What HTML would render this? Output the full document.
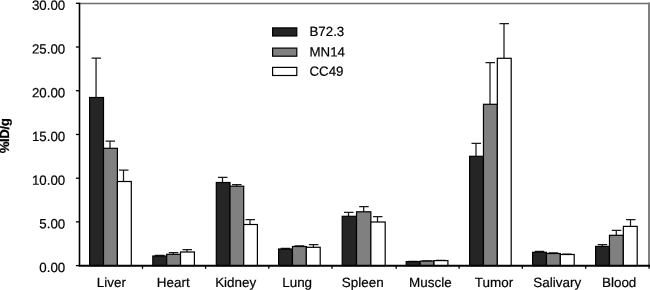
<!DOCTYPE html>
<html><head><meta charset="utf-8"><title>chart</title>
<style>
html,body{margin:0;padding:0;background:#fff;}
body{width:650px;height:290px;overflow:hidden;font-family:"Liberation Sans",sans-serif;}
svg{display:block;will-change:transform;opacity:0.999;}
text{font-family:"Liberation Sans",sans-serif;fill:#000;stroke:#000;stroke-width:0.2;text-rendering:geometricPrecision;}
</style></head><body>
<svg width="650" height="290" viewBox="0 0 650 290">
<rect x="0" y="0" width="650" height="290" fill="#fff"/>
<path d="M79.5 3.4499999999999997 H649.6999999999999" fill="none" stroke="#6e6e6e" stroke-width="1.5"/>
<path d="M649.0 2.55 V265.6" fill="none" stroke="#808080" stroke-width="2"/>
<path d="M96.05 97.50 V58.00 M91.55 58.00 H101.05" fill="none" stroke="#1a1a1a" stroke-width="1.25"/>
<rect x="89.60" y="97.50" width="13.90" height="168.10" fill="#252525" stroke="#000" stroke-width="1.2"/>
<path d="M110.00 148.30 V141.00 M105.50 141.00 H115.00" fill="none" stroke="#1a1a1a" stroke-width="1.25"/>
<rect x="103.50" y="148.30" width="13.90" height="117.30" fill="#808080" stroke="#000" stroke-width="1.2"/>
<path d="M123.50 181.50 V170.00 M119.00 170.00 H128.50" fill="none" stroke="#1a1a1a" stroke-width="1.25"/>
<rect x="117.40" y="181.50" width="13.90" height="84.10" fill="#ffffff" stroke="#000" stroke-width="1.2"/>
<path d="M159.43 256.00 V255.40 M154.93 255.40 H164.43" fill="none" stroke="#1a1a1a" stroke-width="1.25"/>
<rect x="152.80" y="256.00" width="13.87" height="9.60" fill="#252525" stroke="#000" stroke-width="1.2"/>
<path d="M173.30 254.30 V252.50 M168.80 252.50 H178.30" fill="none" stroke="#1a1a1a" stroke-width="1.25"/>
<rect x="166.67" y="254.30" width="13.87" height="11.30" fill="#808080" stroke="#000" stroke-width="1.2"/>
<path d="M187.00 252.00 V249.70 M182.50 249.70 H192.00" fill="none" stroke="#1a1a1a" stroke-width="1.25"/>
<rect x="180.53" y="252.00" width="13.87" height="13.60" fill="#ffffff" stroke="#000" stroke-width="1.2"/>
<path d="M222.50 182.50 V177.30 M218.00 177.30 H227.50" fill="none" stroke="#1a1a1a" stroke-width="1.25"/>
<rect x="216.30" y="182.50" width="13.70" height="83.10" fill="#252525" stroke="#000" stroke-width="1.2"/>
<path d="M236.55 186.20 V184.50 M232.05 184.50 H241.55" fill="none" stroke="#1a1a1a" stroke-width="1.25"/>
<rect x="230.00" y="186.20" width="13.70" height="79.40" fill="#808080" stroke="#000" stroke-width="1.2"/>
<path d="M250.00 224.50 V219.50 M245.50 219.50 H255.00" fill="none" stroke="#1a1a1a" stroke-width="1.25"/>
<rect x="243.70" y="224.50" width="13.70" height="41.10" fill="#ffffff" stroke="#000" stroke-width="1.2"/>
<path d="M285.23 249.00 V248.40 M280.73 248.40 H290.23" fill="none" stroke="#1a1a1a" stroke-width="1.25"/>
<rect x="278.60" y="249.00" width="13.87" height="16.60" fill="#252525" stroke="#000" stroke-width="1.2"/>
<path d="M299.10 246.50 V245.80 M294.60 245.80 H304.10" fill="none" stroke="#1a1a1a" stroke-width="1.25"/>
<rect x="292.47" y="246.50" width="13.87" height="19.10" fill="#808080" stroke="#000" stroke-width="1.2"/>
<path d="M313.40 247.30 V244.50 M308.90 244.50 H318.40" fill="none" stroke="#1a1a1a" stroke-width="1.25"/>
<rect x="306.33" y="247.30" width="13.87" height="18.30" fill="#ffffff" stroke="#000" stroke-width="1.2"/>
<path d="M348.50 216.30 V212.30 M344.00 212.30 H353.50" fill="none" stroke="#1a1a1a" stroke-width="1.25"/>
<rect x="342.20" y="216.30" width="14.33" height="49.30" fill="#252525" stroke="#000" stroke-width="1.2"/>
<path d="M363.70 211.80 V206.70 M359.20 206.70 H368.70" fill="none" stroke="#1a1a1a" stroke-width="1.25"/>
<rect x="356.53" y="211.80" width="14.33" height="53.80" fill="#808080" stroke="#000" stroke-width="1.2"/>
<path d="M377.50 222.00 V216.50 M373.00 216.50 H382.50" fill="none" stroke="#1a1a1a" stroke-width="1.25"/>
<rect x="370.87" y="222.00" width="14.33" height="43.60" fill="#ffffff" stroke="#000" stroke-width="1.2"/>
<path d="M412.85 261.60 V261.40 M408.35 261.40 H417.85" fill="none" stroke="#1a1a1a" stroke-width="1.25"/>
<rect x="406.20" y="261.60" width="13.90" height="4.00" fill="#252525" stroke="#000" stroke-width="1.2"/>
<path d="M426.75 261.10 V260.80 M422.25 260.80 H431.75" fill="none" stroke="#1a1a1a" stroke-width="1.25"/>
<rect x="420.10" y="261.10" width="13.90" height="4.50" fill="#808080" stroke="#000" stroke-width="1.2"/>
<path d="M440.45 260.60 V260.30 M435.95 260.30 H445.45" fill="none" stroke="#1a1a1a" stroke-width="1.25"/>
<rect x="434.00" y="260.60" width="13.90" height="5.00" fill="#ffffff" stroke="#000" stroke-width="1.2"/>
<path d="M476.00 156.30 V143.30 M471.50 143.30 H481.00" fill="none" stroke="#1a1a1a" stroke-width="1.25"/>
<rect x="469.60" y="156.30" width="13.87" height="109.30" fill="#252525" stroke="#000" stroke-width="1.2"/>
<path d="M490.00 104.30 V62.50 M485.50 62.50 H495.00" fill="none" stroke="#1a1a1a" stroke-width="1.25"/>
<rect x="483.47" y="104.30" width="13.87" height="161.30" fill="#808080" stroke="#000" stroke-width="1.2"/>
<path d="M504.00 58.30 V23.70 M499.50 23.70 H509.00" fill="none" stroke="#1a1a1a" stroke-width="1.25"/>
<rect x="497.33" y="58.30" width="13.87" height="207.30" fill="#ffffff" stroke="#000" stroke-width="1.2"/>
<path d="M539.23 252.30 V251.30 M534.73 251.30 H544.23" fill="none" stroke="#1a1a1a" stroke-width="1.25"/>
<rect x="532.60" y="252.30" width="13.87" height="13.30" fill="#252525" stroke="#000" stroke-width="1.2"/>
<path d="M553.10 253.50 V252.80 M548.60 252.80 H558.10" fill="none" stroke="#1a1a1a" stroke-width="1.25"/>
<rect x="546.47" y="253.50" width="13.87" height="12.10" fill="#808080" stroke="#000" stroke-width="1.2"/>
<path d="M566.77 254.50 V254.00 M562.27 254.00 H571.77" fill="none" stroke="#1a1a1a" stroke-width="1.25"/>
<rect x="560.33" y="254.50" width="13.87" height="11.10" fill="#ffffff" stroke="#000" stroke-width="1.2"/>
<path d="M602.23 246.40 V244.70 M597.73 244.70 H607.23" fill="none" stroke="#1a1a1a" stroke-width="1.25"/>
<rect x="595.60" y="246.40" width="13.87" height="19.20" fill="#252525" stroke="#000" stroke-width="1.2"/>
<path d="M616.30 235.30 V230.30 M611.80 230.30 H621.30" fill="none" stroke="#1a1a1a" stroke-width="1.25"/>
<rect x="609.47" y="235.30" width="13.87" height="30.30" fill="#808080" stroke="#000" stroke-width="1.2"/>
<path d="M630.50 226.40 V219.50 M626.00 219.50 H635.50" fill="none" stroke="#1a1a1a" stroke-width="1.25"/>
<rect x="623.33" y="226.40" width="13.87" height="39.20" fill="#ffffff" stroke="#000" stroke-width="1.2"/>
<path d="M79.5 2.65 V265.6" fill="none" stroke="#000" stroke-width="1.6"/>
<path d="M78.7 265.75 H650.0" fill="none" stroke="#000" stroke-width="1.8"/>
<path d="M75.9 3.30 H79.5" stroke="#000" stroke-width="1.3"/>
<text transform="translate(65.2 9.80) rotate(0.03)" font-size="13.3" text-anchor="end">30.00</text>
<path d="M75.9 47.02 H79.5" stroke="#000" stroke-width="1.3"/>
<text transform="translate(65.2 53.52) rotate(0.03)" font-size="13.3" text-anchor="end">25.00</text>
<path d="M75.9 90.73 H79.5" stroke="#000" stroke-width="1.3"/>
<text transform="translate(65.2 97.23) rotate(0.03)" font-size="13.3" text-anchor="end">20.00</text>
<path d="M75.9 134.45 H79.5" stroke="#000" stroke-width="1.3"/>
<text transform="translate(65.2 140.95) rotate(0.03)" font-size="13.3" text-anchor="end">15.00</text>
<path d="M75.9 178.17 H79.5" stroke="#000" stroke-width="1.3"/>
<text transform="translate(65.2 184.67) rotate(0.03)" font-size="13.3" text-anchor="end">10.00</text>
<path d="M75.9 221.88 H79.5" stroke="#000" stroke-width="1.3"/>
<text transform="translate(65.2 228.38) rotate(0.03)" font-size="13.3" text-anchor="end">5.00</text>
<path d="M75.9 265.60 H79.5" stroke="#000" stroke-width="1.3"/>
<text transform="translate(65.2 272.10) rotate(0.03)" font-size="13.3" text-anchor="end">0.00</text>
<path d="M142.50 265.6 V268.8" stroke="#000" stroke-width="1.3"/>
<path d="M205.60 265.6 V268.8" stroke="#000" stroke-width="1.3"/>
<path d="M268.80 265.6 V268.8" stroke="#000" stroke-width="1.3"/>
<path d="M332.00 265.6 V268.8" stroke="#000" stroke-width="1.3"/>
<path d="M396.20 265.6 V268.8" stroke="#000" stroke-width="1.3"/>
<path d="M459.10 265.6 V268.8" stroke="#000" stroke-width="1.3"/>
<path d="M522.30 265.6 V268.8" stroke="#000" stroke-width="1.3"/>
<path d="M585.70 265.6 V268.8" stroke="#000" stroke-width="1.3"/>
<path d="M649.10 265.6 V268.8" stroke="#000" stroke-width="1.3"/>
<text transform="translate(111.31 287.1) rotate(0.03)" font-size="13.45" text-anchor="middle">Liver</text>
<text transform="translate(173.19 287.1) rotate(0.03)" font-size="13.45" text-anchor="middle">Heart</text>
<text transform="translate(235.68 287.1) rotate(0.03)" font-size="13.45" text-anchor="middle">Kidney</text>
<text transform="translate(297.15 287.1) rotate(0.03)" font-size="13.45" text-anchor="middle">Lung</text>
<text transform="translate(362.75 287.1) rotate(0.03)" font-size="13.45" text-anchor="middle">Spleen</text>
<text transform="translate(430.40 287.1) rotate(0.03)" font-size="13.45" text-anchor="middle">Muscle</text>
<text transform="translate(494.00 287.1) rotate(0.03)" font-size="13.45" text-anchor="middle">Tumor</text>
<text transform="translate(557.25 287.1) rotate(0.03)" font-size="13.45" text-anchor="middle">Salivary</text>
<text transform="translate(619.15 287.1) rotate(0.03)" font-size="13.45" text-anchor="middle">Blood</text>
<text transform="translate(9.35 136.0) rotate(-90)" stroke="none" font-size="13.3" font-weight="bold" letter-spacing="-0.45" text-anchor="middle">%ID/g</text>
<rect x="272.6" y="27.90" width="24.2" height="8.1" fill="#252525" stroke="#000" stroke-width="1.2"/>
<text transform="translate(309.5 36.00) rotate(0.03)" font-size="13.3">B72.3</text>
<rect x="272.6" y="48.10" width="24.2" height="8.1" fill="#808080" stroke="#000" stroke-width="1.2"/>
<text transform="translate(309.5 56.40) rotate(0.03)" font-size="13.3">MN14</text>
<rect x="272.6" y="67.40" width="24.2" height="8.1" fill="#ffffff" stroke="#000" stroke-width="1.2"/>
<text transform="translate(309.5 75.70) rotate(0.03)" font-size="13.3">CC49</text>
</svg></body></html>
